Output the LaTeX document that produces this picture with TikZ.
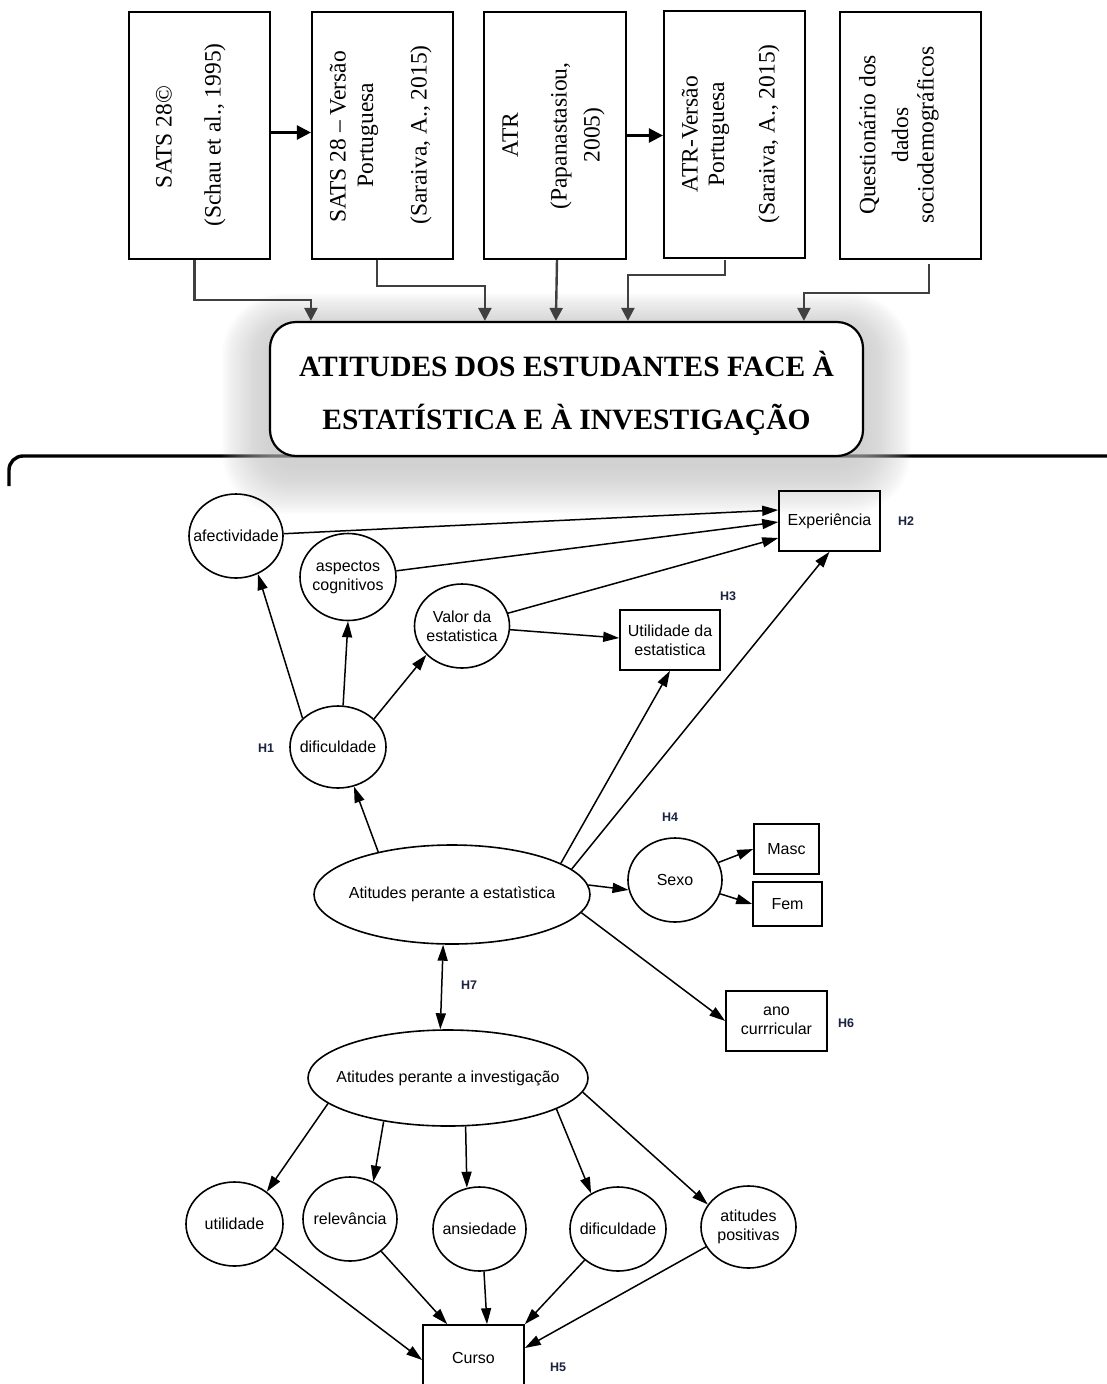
\documentclass[tikz,border=0pt]{standalone}
\usepackage{fontspec}
\setmainfont{Liberation Serif}
\setsansfont{Liberation Sans}
\usetikzlibrary{shapes.geometric,arrows.meta,calc}
\definecolor{cgray}{HTML}{404040}
\definecolor{hcol}{HTML}{1B2340}
\definecolor{glowc}{HTML}{C4C4C4}
\tikzset{
  topbox/.style={draw, line width=2.2pt, minimum width=141pt, minimum height=247pt, inner sep=0pt},
  toptext/.style={rotate=90, font=\fontsize{23.5}{28}\selectfont, inner sep=0pt},
  gconn/.style={draw=cgray, line width=2.4pt, -{Triangle[length=13pt,width=13pt]}, color=cgray},
  bconn/.style={draw=black, line width=2.6pt, -{Triangle[length=14pt,width=14pt]}},
  var/.style={ellipse, draw, line width=1.6pt, inner sep=0pt},
  vtext/.style={inner sep=0pt, align=center, font=\sffamily\fontsize{16}{19}\selectfont},
  obs/.style={rectangle, draw, line width=1.6pt, inner sep=0pt, align=center, font=\sffamily\fontsize{16}{19}\selectfont},
  arr/.style={line width=1.5pt, -{Triangle[length=16pt,width=10pt]}},
  darr/.style={line width=1.5pt, {Triangle[length=16pt,width=10pt]}-{Triangle[length=16pt,width=10pt]}},
  hlab/.style={font=\sffamily\bfseries\fontsize{12.5}{14}\selectfont, text=hcol, inner sep=0pt}
}
\begin{document}
\begin{tikzpicture}[x=1pt,y=-1pt]
\clip (0,0) rectangle (1107,1384);
\fill[white] (0,0) rectangle (1107,1384);

% bracket line
\draw[line width=3.4pt, rounded corners=14pt] (9,486) -- (9,456) -- (1120,456);

% glow behind main box
\foreach \i in {1,...,24}{
  \fill[glowc, opacity=0.045, rounded corners=26+\i*1.5]
    ({270-2*\i},{322-1.6*\i+10}) rectangle ({863+2*\i},{456+2*\i+10});
}

% top boxes
\node[topbox] (b1) at (199.5,135.5) {};
\node[topbox] (b2) at (382.5,135.5) {};
\node[topbox, minimum width=142pt] (b3) at (555,135.5) {};
\node[topbox] (b4) at (734.5,134.5) {};
\node[topbox] (b5) at (910.5,135.5) {};

\node[toptext] (t1a) at (164,137) {SATS 28©};
\node[toptext] (t1b) at (215,135) {(Schau et al., 1995)};
\node[toptext] (t2a) at (338,137) {SATS 28 – Versão};
\node[toptext] (t2b) at (368,135) {Portuguesa};
\node[toptext] (t2c) at (421,135) {(Saraiva, A., 2015)};
\node[toptext] (t3a) at (510,135) {ATR};
\node[toptext] (t3b) at (561,136) {(Papanastasiou,};
\node[toptext] (t3c) at (594,135) {2005)};
\node[toptext] (t4a) at (690,134) {ATR-Versão};
\node[toptext] (t4b) at (719,134) {Portuguesa};
\node[toptext] (t4c) at (769,134) {(Saraiva, A., 2015)};
\node[toptext] (t5a) at (869,135) {Questionário dos};
\node[toptext] (t5b) at (900,135) {dados};
\node[toptext] (t5c) at (928,135) {sociodemográficos};

\draw[bconn] ($(b1.east)+(0,-3)$) -- ($(b2.west)+(0,-3)$);
\draw[bconn] (b3.east) -- (b3.east -| b4.west);

% main box
\node[draw, line width=2.2pt, rounded corners=26pt, fill=white, minimum width=593pt, minimum height=134pt]
  (main) at (566.5,389) {};
\node[align=center, font=\bfseries\fontsize{29.5}{53}\selectfont, inner sep=0pt] (maintext) at (566.5,393)
  {ATITUDES DOS ESTUDANTES FACE À\\ESTATÍSTICA E À INVESTIGAÇÃO};

% gray connectors
\draw[gconn] ($(b1.south)+(-5,0)$) -- ++(0,40) -| ($(main.north west)+(42,0)$);
\draw[gconn] ($(b2.south)+(-5.5,0)$) -- ++(0,26) -| ($(main.north west)+(216,0)$);
\draw[gconn] ($(b3.south)+(2,0)$) -- ($(main.north west)+(287,0)$);
\draw[gconn] ($(b4.south)+(-9.5,1)$) -- ++(0,15) -| ($(main.north west)+(359,0)$);
\draw[gconn] ($(b5.south)+(18.5,4)$) -- ++(0,29) -| ($(main.north west)+(535,0)$);

% lower diagram nodes
\node[var, minimum width=94pt, minimum height=84pt, label={[vtext]center:afectividade}] (afet) at (236,536) {};
\node[var, minimum width=96pt, minimum height=87pt, label={[vtext]center:{aspectos\\cognitivos}}] (aspc) at (348,577) {};
\node[var, minimum width=95pt, minimum height=84pt, label={[vtext]center:{Valor da\\estatistica}}] (valor) at (462,626) {};
\node[var, minimum width=96pt, minimum height=82pt, label={[vtext]center:dificuldade}] (dif1) at (338,747) {};
\node[obs, minimum width=101pt, minimum height=60pt] (exp) at (829.5,521) {Experiência};
\node[obs, minimum width=100pt, minimum height=60pt] (util1) at (670,640) {Utilidade da\\estatistica};
\node[var, minimum width=276pt, minimum height=99pt, label={[vtext]center:Atitudes perante a estatìstica}] (ape) at (452,894.5) {};
\node[var, minimum width=94pt, minimum height=84pt, label={[vtext]center:Sexo}] (sexo) at (675,880) {};
\node[obs, minimum width=65pt, minimum height=50pt] (masc) at (786.5,849) {Masc};
\node[obs, minimum width=69pt, minimum height=44pt] (fem) at (787.5,904) {Fem};
\node[obs, minimum width=101pt, minimum height=60pt] (ano) at (776.5,1021) {ano\\currricular};
\node[var, minimum width=280pt, minimum height=96pt, label={[vtext]center:Atitudes perante a investigação}] (api) at (448,1078) {};
\node[var, minimum width=97pt, minimum height=84pt, label={[vtext]center:utilidade}] (utl) at (234.5,1224) {};
\node[var, minimum width=94pt, minimum height=84pt, label={[vtext]center:relevância}] (rel) at (350,1219) {};
\node[var, minimum width=93pt, minimum height=84pt, label={[vtext]center:ansiedade}] (ans) at (479.5,1229) {};
\node[var, minimum width=96pt, minimum height=84pt, label={[vtext]center:dificuldade}] (dif2) at (618,1229) {};
\node[var, minimum width=95pt, minimum height=82pt, label={[vtext]center:{atitudes\\positivas}}] (pos) at (748.5,1227) {};
\node[obs, minimum width=101pt, minimum height=66pt] (curso) at (473.5,1358) {Curso};

% H labels
\node[hlab] (h1) at (266,748) {H1};
\node[hlab] (h2) at (906,521) {H2};
\node[hlab] (h3) at (728,596) {H3};
\node[hlab] (h4) at (670,817) {H4};
\node[hlab] (h5) at (558,1367) {H5};
\node[hlab] (h6) at (846,1023) {H6};
\node[hlab] (h7) at (469,985) {H7};

% edges
\draw[arr] (afet) -- ($(exp.west)+(0,-11)$);
\draw[arr] (aspc) -- ($(exp.west)+(0,1)$);
\draw[arr] (valor) -- ($(exp.west)+(0,17)$);
\draw[arr] (valor) -- ($(util1.west)+(0,-2)$);
\draw[arr] (dif1.141) -- (afet.300);
\draw[arr] (dif1.83) -- (aspc.270);
\draw[arr] (dif1.38) -- (valor.219);
\draw[arr] (ape.150) -- (dif1.292);
\draw[arr] (ape.16) -- (util1.south);
\draw[arr] (ape.12) -- (exp.south);
\draw[arr] (ape.4) -- (sexo.192);
\draw[arr] (sexo.22) -- (masc.west);
\draw[arr] (sexo.343) -- (fem.west);
\draw[arr] (ape.352) -- (ano.west);
\draw[darr] (ape.260) -- (api.99);
\draw[arr] (api.192) -- (utl.45);
\draw[arr] (api.214) -- (rel.58);
\draw[arr] (api.290) -- (ans.107);
\draw[arr] (api.344) -- (dif2.127);
\draw[arr] (api.354) -- (pos.151);
\draw[arr] (utl.329) -- ($(curso.west)+(0,2)$);
\draw[arr] (rel.314) -- ($(curso.north west)+(25,0)$);
\draw[arr] (ans.276) -- ($(curso.north)+(13.5,0)$);
\draw[arr] (dif2.223) -- (curso.north east);
\draw[arr] (pos.205) -- ($(curso.east)+(0,-10)$);
\end{tikzpicture}
\end{document}
